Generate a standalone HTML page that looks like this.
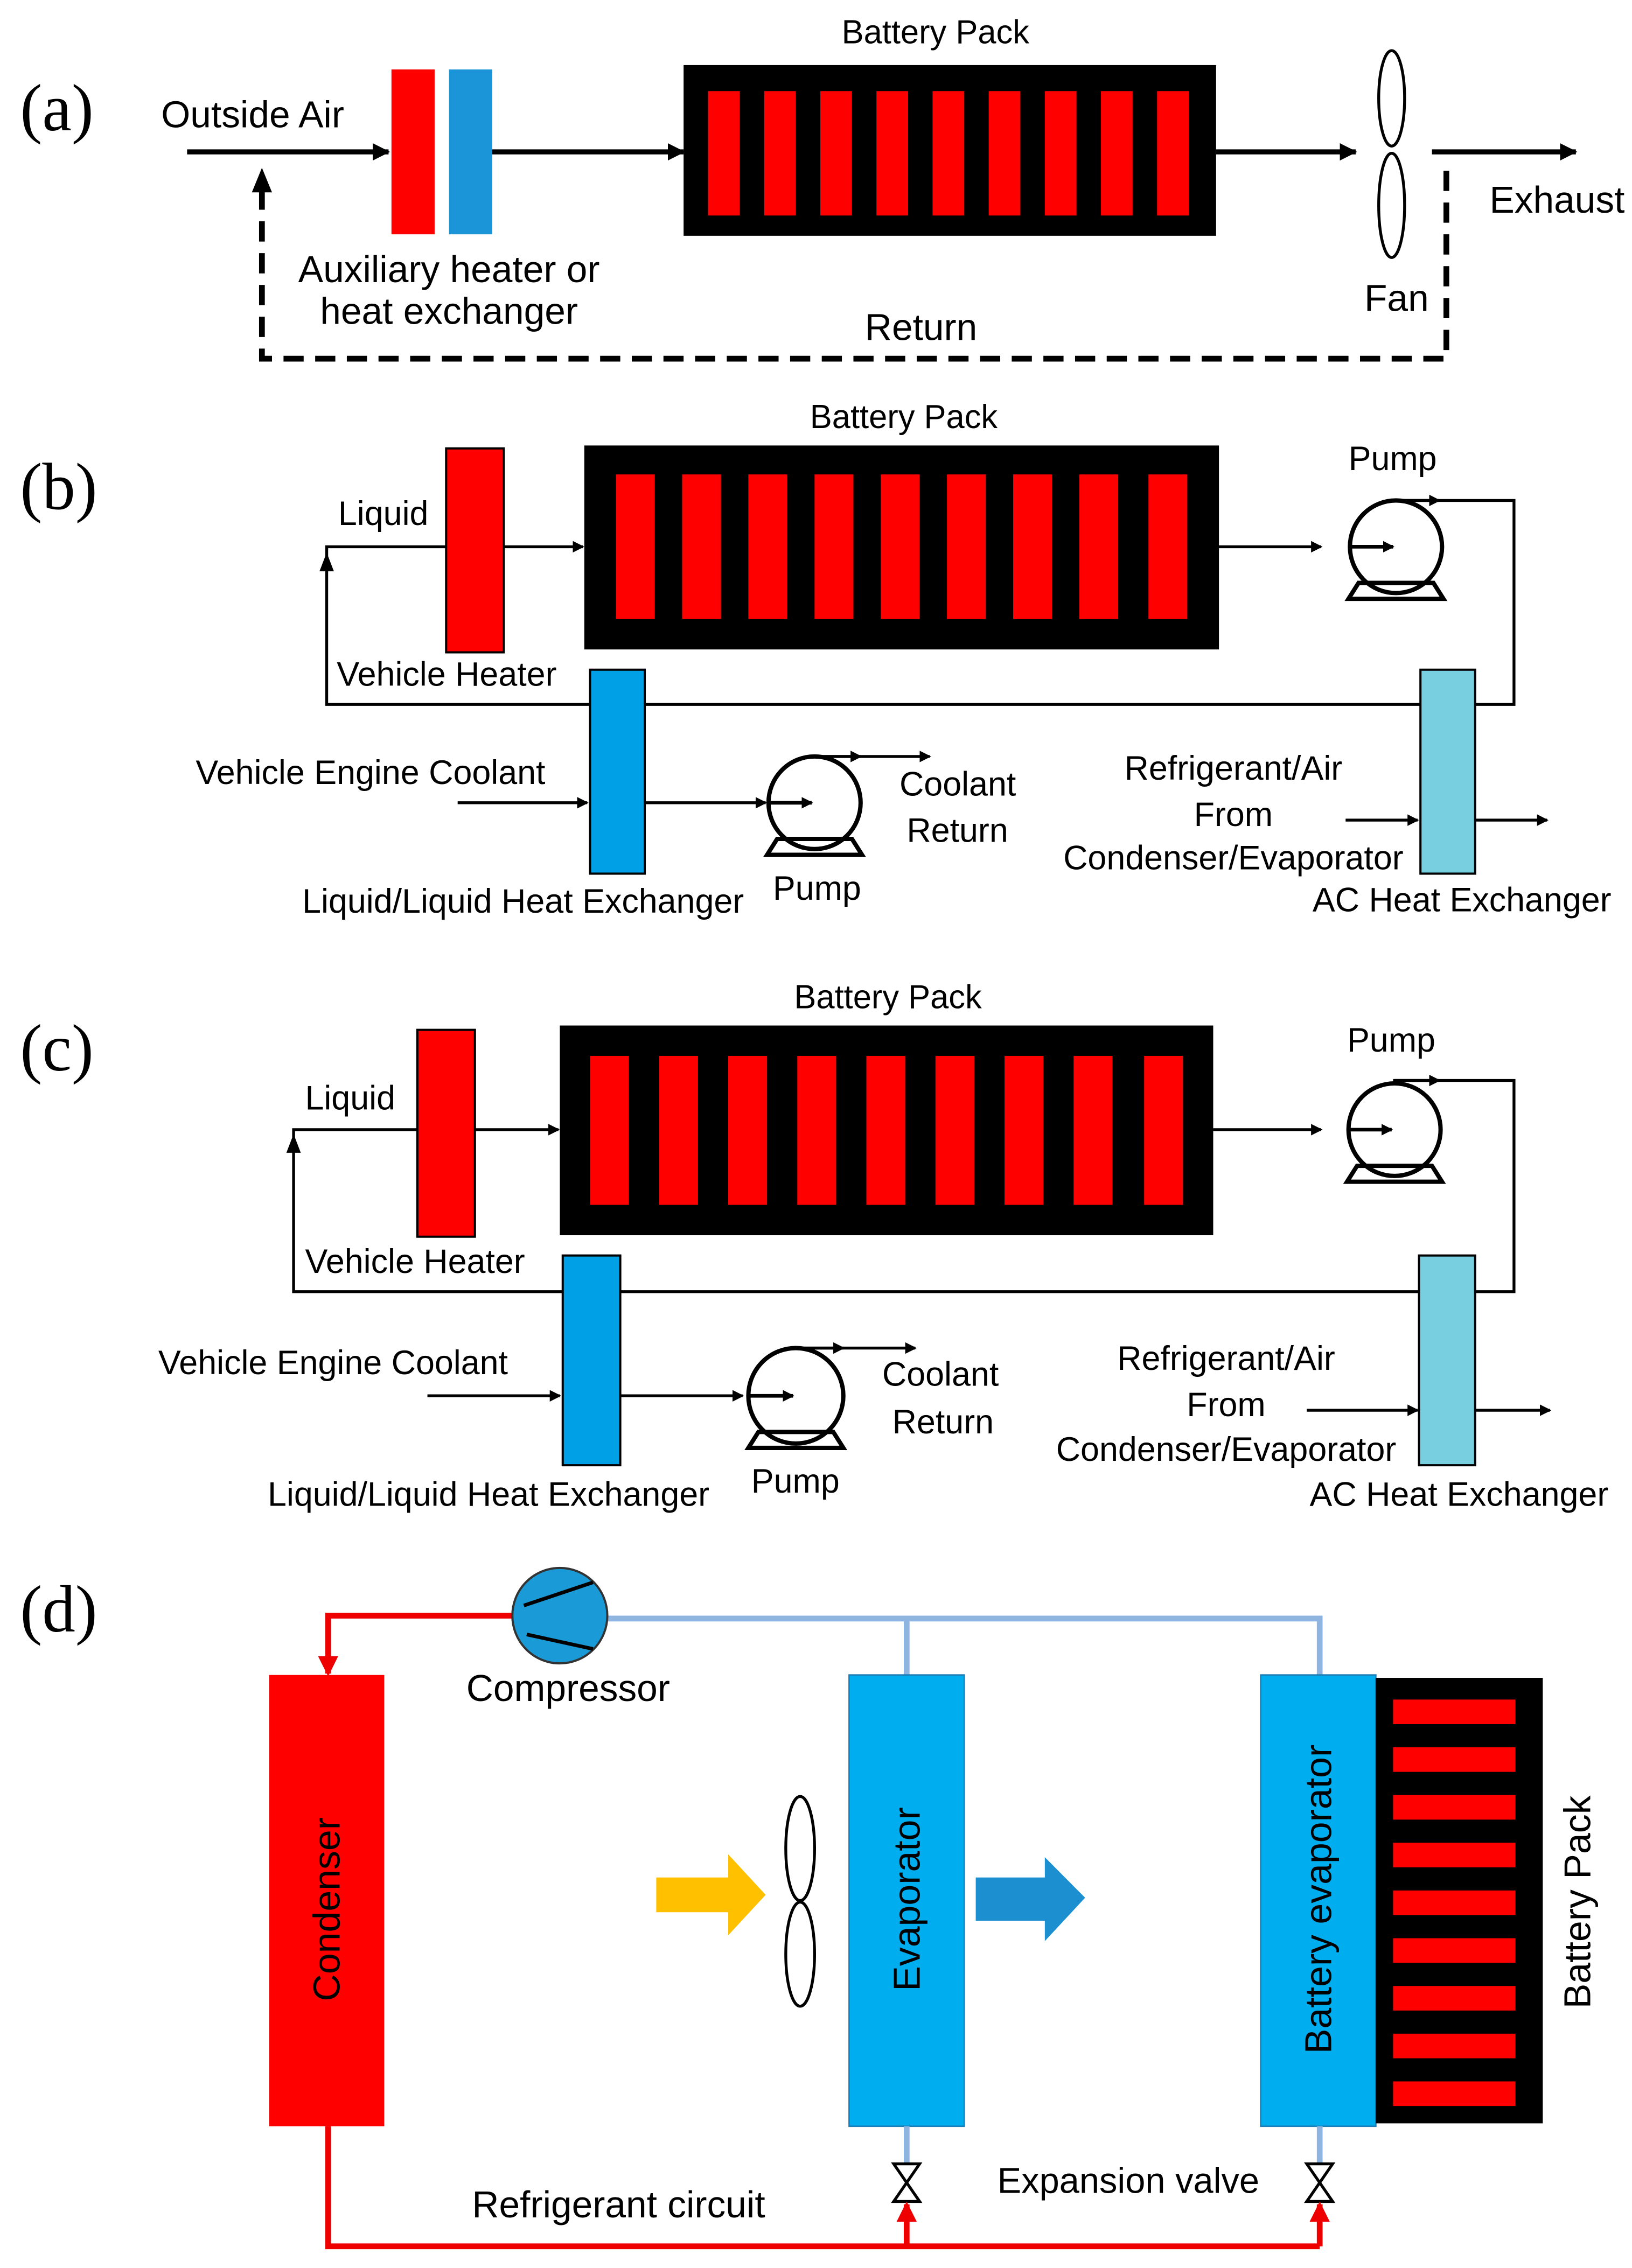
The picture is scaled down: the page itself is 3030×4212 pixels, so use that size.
<!DOCTYPE html>
<html><head><meta charset="utf-8"><style>html,body{margin:0;padding:0;background:#fff}svg{display:block}</style></head>
<body>
<svg width="3030" height="4212" viewBox="0 0 1134 1568" preserveAspectRatio="none" xmlns="http://www.w3.org/2000/svg" font-family="Liberation Sans, sans-serif">
<defs>
<marker id="ah" markerWidth="8" markerHeight="8" refX="7" refY="4" orient="auto" markerUnits="userSpaceOnUse"><path d="M0,0 L8,4 L0,8 Z" fill="#000"/></marker>
<marker id="ahb" markerWidth="12" markerHeight="12" refX="11" refY="6" orient="auto" markerUnits="userSpaceOnUse"><path d="M0,0 L12,6 L0,12 Z" fill="#000"/></marker>
<marker id="ahr" markerWidth="14" markerHeight="14" refX="12" refY="7" orient="auto" markerUnits="userSpaceOnUse"><path d="M0,0 L14,7 L0,14 Z" fill="#e00"/></marker>
</defs>

<!-- (a) -->
<text x="14" y="90" font-family="Liberation Serif, serif" font-size="46">(a)</text>
<text x="112" y="88" font-size="26">Outside Air</text>
<line x1="130" y1="105" x2="270" y2="105" stroke="#000" stroke-width="3.5" marker-end="url(#ahb)"/>
<rect x="272" y="48" width="30" height="114" fill="#f00"/>
<rect x="312" y="48" width="30" height="114" fill="#1c95d8"/>
<line x1="342" y1="105" x2="475" y2="105" stroke="#000" stroke-width="3.5" marker-end="url(#ahb)"/>
<text x="650" y="30" font-size="23" text-anchor="middle">Battery Pack</text>
<rect x="475" y="45" width="370" height="118" fill="#000"/>
<g fill="#f00">
<rect x="492" y="63" width="22" height="86"/><rect x="531" y="63" width="22" height="86"/><rect x="570" y="63" width="22" height="86"/><rect x="609" y="63" width="22" height="86"/><rect x="648" y="63" width="22" height="86"/><rect x="687" y="63" width="22" height="86"/><rect x="726" y="63" width="22" height="86"/><rect x="765" y="63" width="22" height="86"/><rect x="804" y="63" width="22" height="86"/>
</g>
<line x1="845" y1="105" x2="942" y2="105" stroke="#000" stroke-width="3.5" marker-end="url(#ahb)"/>
<ellipse cx="967" cy="68" rx="9" ry="33" fill="#fff" stroke="#000" stroke-width="2"/>
<ellipse cx="967" cy="142" rx="9" ry="36" fill="#fff" stroke="#000" stroke-width="2"/>
<line x1="995" y1="105" x2="1095" y2="105" stroke="#000" stroke-width="3.5" marker-end="url(#ahb)"/>
<text x="1035" y="147" font-size="26">Exhaust</text>
<polyline points="1005,118 1005,248 182,248 182,130" fill="none" stroke="#000" stroke-width="4" stroke-dasharray="14,8"/>
<path d="M175,133 L182,116 L189,133 Z" fill="#000"/>
<text x="312" y="195" font-size="26" text-anchor="middle">Auxiliary heater or</text>
<text x="312" y="224" font-size="26" text-anchor="middle">heat exchanger</text>
<text x="948" y="215" font-size="26">Fan</text>
<text x="640" y="235" font-size="26" text-anchor="middle">Return</text>

<!-- (b) -->
<text x="14" y="352" font-family="Liberation Serif, serif" font-size="46">(b)</text>
<text x="628" y="296" font-size="23" text-anchor="middle">Battery Pack</text>
<rect x="406" y="308" width="441" height="141" fill="#000"/>
<g fill="#f00">
<rect x="428" y="328" width="27" height="100"/><rect x="474" y="328" width="27" height="100"/><rect x="520" y="328" width="27" height="100"/><rect x="566" y="328" width="27" height="100"/><rect x="612" y="328" width="27" height="100"/><rect x="658" y="328" width="27" height="100"/><rect x="704" y="328" width="27" height="100"/><rect x="750" y="328" width="27" height="100"/><rect x="798" y="328" width="27" height="100"/>
</g>
<polyline points="227,392 227,487 1052,487 1052,346 968,346" fill="none" stroke="#000" stroke-width="2"/>
<path d="M222,395 L227,382 L232,395 Z" fill="#000"/>
<polyline points="227,386 227,378 310,378" fill="none" stroke="#000" stroke-width="2"/>
<rect x="310" y="310" width="40" height="141" fill="#f00" stroke="#000" stroke-width="1.5"/>
<line x1="350" y1="378" x2="405" y2="378" stroke="#000" stroke-width="2" marker-end="url(#ah)"/>
<line x1="847" y1="378" x2="918" y2="378" stroke="#000" stroke-width="2" marker-end="url(#ah)"/>
<text x="235" y="363" font-size="23.5">Liquid</text>
<text x="234" y="474" font-size="23.5">Vehicle Heater</text>
<text x="937" y="325" font-size="23.5">Pump</text>
<circle cx="970" cy="378" r="32" fill="#fff" stroke="#000" stroke-width="3"/>
<line x1="938" y1="378" x2="968" y2="378" stroke="#000" stroke-width="2.5" marker-end="url(#ah)"/>
<polygon points="944,403 937,414 1003,414 996,403" fill="none" stroke="#000" stroke-width="3"/>
<line x1="970" y1="346" x2="1000" y2="346" stroke="#000" stroke-width="2" marker-end="url(#ah)"/>
<rect x="410" y="463" width="38" height="141" fill="#00a0e6" stroke="#000" stroke-width="1.5"/>
<rect x="987" y="463" width="38" height="141" fill="#78cfdf" stroke="#000" stroke-width="1.5"/>
<text x="136" y="542" font-size="23.5">Vehicle Engine Coolant</text>
<line x1="318" y1="555" x2="408" y2="555" stroke="#000" stroke-width="2" marker-end="url(#ah)"/>
<line x1="448" y1="555" x2="532" y2="555" stroke="#000" stroke-width="2" marker-end="url(#ah)"/>
<circle cx="566" cy="555" r="32" fill="#fff" stroke="#000" stroke-width="3"/>
<line x1="534" y1="555" x2="564" y2="555" stroke="#000" stroke-width="2.5" marker-end="url(#ah)"/>
<polygon points="540,580 533,591 599,591 592,580" fill="none" stroke="#000" stroke-width="3"/>
<line x1="566" y1="523" x2="646" y2="523" stroke="#000" stroke-width="2" marker-end="url(#ah)"/>
<line x1="566" y1="523" x2="598" y2="523" stroke="#000" stroke-width="2" marker-end="url(#ah)"/>
<text x="625" y="550" font-size="23.5">Coolant</text>
<text x="630" y="582" font-size="23.5">Return</text>
<text x="537" y="622" font-size="23.5">Pump</text>
<text x="210" y="631" font-size="23.5">Liquid/Liquid Heat Exchanger</text>
<text x="857" y="539" font-size="23.5" text-anchor="middle">Refrigerant/Air</text>
<text x="857" y="571" font-size="23.5" text-anchor="middle">From</text>
<text x="857" y="601" font-size="23.5" text-anchor="middle">Condenser/Evaporator</text>
<line x1="935" y1="567" x2="985" y2="567" stroke="#000" stroke-width="2" marker-end="url(#ah)"/>
<line x1="1025" y1="567" x2="1075" y2="567" stroke="#000" stroke-width="2" marker-end="url(#ah)"/>
<text x="912" y="630" font-size="23.5">AC Heat Exchanger</text>

<!-- (c) -->
<text x="14" y="740" font-family="Liberation Serif, serif" font-size="46">(c)</text>
<text x="617" y="697" font-size="23" text-anchor="middle">Battery Pack</text>
<rect x="389" y="709" width="454" height="145" fill="#000"/>
<g fill="#f00">
<rect x="410" y="730" width="27" height="103"/><rect x="458" y="730" width="27" height="103"/><rect x="506" y="730" width="27" height="103"/><rect x="554" y="730" width="27" height="103"/><rect x="602" y="730" width="27" height="103"/><rect x="650" y="730" width="27" height="103"/><rect x="698" y="730" width="27" height="103"/><rect x="746" y="730" width="27" height="103"/><rect x="795" y="730" width="27" height="103"/>
</g>
<polyline points="204,794 204,893 1052,893 1052,747 968,747" fill="none" stroke="#000" stroke-width="2"/>
<path d="M199,797 L204,784 L209,797 Z" fill="#000"/>
<polyline points="204,788 204,781 290,781" fill="none" stroke="#000" stroke-width="2"/>
<rect x="290" y="712" width="40" height="143" fill="#f00" stroke="#000" stroke-width="1.5"/>
<line x1="330" y1="781" x2="388" y2="781" stroke="#000" stroke-width="2" marker-end="url(#ah)"/>
<line x1="843" y1="781" x2="918" y2="781" stroke="#000" stroke-width="2" marker-end="url(#ah)"/>
<text x="212" y="767" font-size="23.5">Liquid</text>
<text x="212" y="880" font-size="23.5">Vehicle Heater</text>
<text x="936" y="727" font-size="23.5">Pump</text>
<circle cx="969" cy="781" r="32" fill="#fff" stroke="#000" stroke-width="3"/>
<line x1="937" y1="781" x2="967" y2="781" stroke="#000" stroke-width="2.5" marker-end="url(#ah)"/>
<polygon points="943,806 936,817 1002,817 995,806" fill="none" stroke="#000" stroke-width="3"/>
<line x1="969" y1="747" x2="1000" y2="747" stroke="#000" stroke-width="2" marker-end="url(#ah)"/>
<rect x="391" y="868" width="40" height="145" fill="#00a0e6" stroke="#000" stroke-width="1.5"/>
<rect x="986" y="868" width="39" height="145" fill="#78cfdf" stroke="#000" stroke-width="1.5"/>
<text x="110" y="950" font-size="23.5">Vehicle Engine Coolant</text>
<line x1="297" y1="965" x2="389" y2="965" stroke="#000" stroke-width="2" marker-end="url(#ah)"/>
<line x1="431" y1="965" x2="516" y2="965" stroke="#000" stroke-width="2" marker-end="url(#ah)"/>
<circle cx="553" cy="965" r="33" fill="#fff" stroke="#000" stroke-width="3"/>
<line x1="520" y1="965" x2="551" y2="965" stroke="#000" stroke-width="2.5" marker-end="url(#ah)"/>
<polygon points="527,990 520,1001 586,1001 579,990" fill="none" stroke="#000" stroke-width="3"/>
<line x1="553" y1="932" x2="636" y2="932" stroke="#000" stroke-width="2" marker-end="url(#ah)"/>
<line x1="553" y1="932" x2="586" y2="932" stroke="#000" stroke-width="2" marker-end="url(#ah)"/>
<text x="613" y="958" font-size="23.5">Coolant</text>
<text x="620" y="991" font-size="23.5">Return</text>
<text x="522" y="1032" font-size="23.5">Pump</text>
<text x="186" y="1041" font-size="23.5">Liquid/Liquid Heat Exchanger</text>
<text x="852" y="947" font-size="23.5" text-anchor="middle">Refrigerant/Air</text>
<text x="852" y="979" font-size="23.5" text-anchor="middle">From</text>
<text x="852" y="1010" font-size="23.5" text-anchor="middle">Condenser/Evaporator</text>
<line x1="908" y1="975" x2="985" y2="975" stroke="#000" stroke-width="2" marker-end="url(#ah)"/>
<line x1="1025" y1="975" x2="1077" y2="975" stroke="#000" stroke-width="2" marker-end="url(#ah)"/>
<text x="910" y="1041" font-size="23.5">AC Heat Exchanger</text>

<!-- (d) -->
<text x="14" y="1128" font-family="Liberation Serif, serif" font-size="46">(d)</text>
<polyline points="422,1119 917,1119 917,1158" fill="none" stroke="#8fb4df" stroke-width="4"/>
<line x1="630" y1="1119" x2="630" y2="1158" stroke="#8fb4df" stroke-width="4"/>
<polyline points="356,1117 228,1117 228,1157" fill="none" stroke="#e00" stroke-width="4" marker-end="url(#ahr)"/>
<circle cx="389" cy="1117" r="33" fill="#1a9ad6" stroke="#333" stroke-width="1.5"/>
<line x1="364" y1="1110" x2="412" y2="1094" stroke="#000" stroke-width="2.5"/>
<line x1="366" y1="1130" x2="412" y2="1140" stroke="#000" stroke-width="2.5"/>
<text x="324" y="1176" font-size="26">Compressor</text>
<rect x="187" y="1158" width="80" height="312" fill="#f00"/>
<text transform="translate(236,1320) rotate(-90)" font-size="26" text-anchor="middle">Condenser</text>
<rect x="590" y="1158" width="80" height="312" fill="#00aeef" stroke="#1a7fb8" stroke-width="1"/>
<text transform="translate(639,1313) rotate(-90)" font-size="26" text-anchor="middle">Evaporator</text>
<rect x="876" y="1158" width="80" height="312" fill="#00aeef" stroke="#1a7fb8" stroke-width="1"/>
<text transform="translate(925,1313) rotate(-90)" font-size="26" text-anchor="middle">Battery evaporator</text>
<rect x="956" y="1160" width="116" height="308" fill="#000"/>
<g fill="#f00">
<rect x="968" y="1175" width="85" height="17"/><rect x="968" y="1208" width="85" height="17"/><rect x="968" y="1241" width="85" height="17"/><rect x="968" y="1274" width="85" height="17"/><rect x="968" y="1307" width="85" height="17"/><rect x="968" y="1340" width="85" height="17"/><rect x="968" y="1373" width="85" height="17"/><rect x="968" y="1406" width="85" height="17"/><rect x="968" y="1439" width="85" height="17"/>
</g>
<text transform="translate(1105,1315) rotate(-90)" font-size="26" text-anchor="middle">Battery Pack</text>
<ellipse cx="556" cy="1278" rx="10" ry="36" fill="#fff" stroke="#000" stroke-width="2"/>
<ellipse cx="556" cy="1351" rx="10" ry="36" fill="#fff" stroke="#000" stroke-width="2"/>
<polygon points="456,1298 506,1298 506,1282 532,1310 506,1338 506,1322 456,1322" fill="#ffc000"/>
<polygon points="678,1298 726,1298 726,1284 754,1312 726,1342 726,1328 678,1328" fill="#1b8fd0"/>
<line x1="630" y1="1470" x2="630" y2="1496" stroke="#8fb4df" stroke-width="4"/>
<line x1="917" y1="1470" x2="917" y2="1496" stroke="#8fb4df" stroke-width="4"/>
<polygon points="621,1496 639,1496 621,1522 639,1522" fill="#fff" stroke="#000" stroke-width="2"/>
<polygon points="908,1496 926,1496 908,1522 926,1522" fill="#fff" stroke="#000" stroke-width="2"/>
<polyline points="228,1470 228,1553 917,1553" fill="none" stroke="#e00" stroke-width="4"/>
<line x1="630" y1="1553" x2="630" y2="1524" stroke="#e00" stroke-width="4" marker-end="url(#ahr)"/>
<line x1="917" y1="1553" x2="917" y2="1524" stroke="#e00" stroke-width="4" marker-end="url(#ahr)"/>
<text x="328" y="1533" font-size="26">Refrigerant circuit</text>
<text x="693" y="1516" font-size="25">Expansion valve</text>
</svg>
</body></html>
